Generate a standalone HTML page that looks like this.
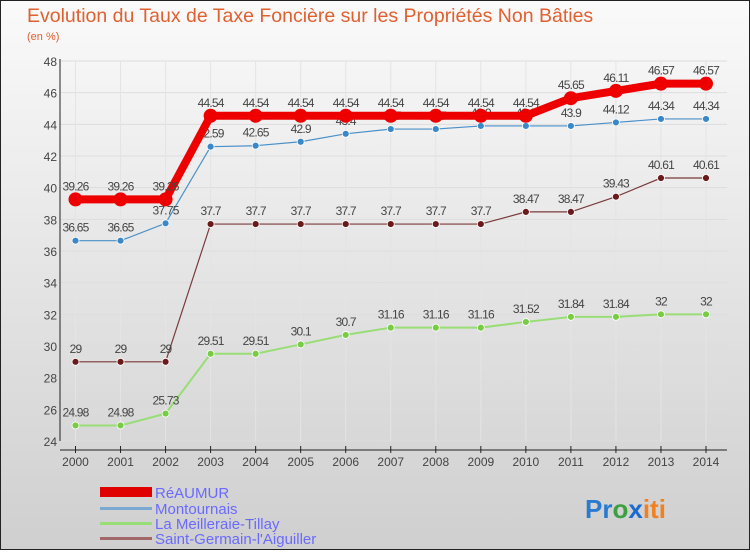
<!DOCTYPE html>
<html><head><meta charset="utf-8"><style>
body{margin:0;width:750px;height:550px;overflow:hidden;font-family:"Liberation Sans",sans-serif}
svg text{font-family:"Liberation Sans",sans-serif}
</style></head><body>
<svg id="c" width="750" height="550">
<defs><linearGradient id="bg" x1="0" y1="0" x2="0" y2="1"><stop offset="0" stop-color="#fafafa"/><stop offset="1" stop-color="#cfcfcf"/></linearGradient></defs>
<rect x="0.5" y="0.5" width="749" height="549" fill="url(#bg)" stroke="#222"/>
<text x="27" y="22" font-size="19.5" fill="#e06030">Evolution du Taux de Taxe Foncière sur les Propriétés Non Bâties</text>
<text x="27" y="40" font-size="11" fill="#e06030">(en %)</text>
<g id="grid"></g><g id="series"></g>
<g>
<rect x="100" y="487" width="52" height="10" fill="#e00000"/>
<text x="155" y="498" font-size="15" fill="#6a6aff">RéAUMUR</text>
<rect x="100" y="507" width="52" height="3" fill="#7aa8d0"/>
<text x="155" y="514" font-size="15" fill="#6a6aff">Montournais</text>
<rect x="100" y="522" width="52" height="3" fill="#99dd77"/>
<text x="155" y="529" font-size="15" fill="#6a6aff">La Meilleraie-Tillay</text>
<rect x="100" y="537" width="52" height="3" fill="#a06868"/>
<text x="155" y="544" font-size="15" fill="#6a6aff">Saint-Germain-l'Aiguiller</text>
</g>
<text x="585" y="518" font-size="26" font-weight="bold"><tspan fill="#2a7bd0">Pr</tspan><tspan fill="#3aa040">o</tspan><tspan fill="#1a6ad0">x</tspan><tspan fill="#f08020">iti</tspan></text>
</svg>
<script>
const years=[2000,2001,2002,2003,2004,2005,2006,2007,2008,2009,2010,2011,2012,2013,2014];
const yTicks=[24,26,28,30,32,34,36,38,40,42,44,46,48];
const reaumur=[39.26,39.26,39.26,44.54,44.54,44.54,44.54,44.54,44.54,44.54,44.54,45.65,46.11,46.57,46.57];
const montournais=[36.65,36.65,37.75,42.59,42.65,42.9,43.4,43.7,43.7,43.9,43.9,43.9,44.12,44.34,44.34];
const meilleraie=[24.98,24.98,25.73,29.51,29.51,30.1,30.7,31.16,31.16,31.16,31.52,31.84,31.84,32,32];
const stgermain=[29,29,29,37.7,37.7,37.7,37.7,37.7,37.7,37.7,38.47,38.47,39.43,40.61,40.61];
const NS="http://www.w3.org/2000/svg";
const x0=60,x1=727,yTop=61,yBot=441;
const xS=i=>75.5+i*(706-75.5)/(years.length-1);
const yS=v=>yBot-(v-24)/(48-24)*(yBot-yTop);
function mk(t,a,p){const e=document.createElementNS(NS,t);for(const k in a)e.setAttribute(k,a[k]);p.appendChild(e);return e;}
const g=document.getElementById('grid');
yTicks.forEach(v=>{
 const l=mk('line',{x1:x0,x2:x1,y1:yS(v),y2:yS(v),stroke:'#ddd'},g);
 
 
 const t=mk('text',{x:x0-3,y:yS(v)+5,'text-anchor':'end','font-size':12,fill:'#444'},g);t.textContent=v;
 
 
});
years.forEach((y,i)=>{
 const l=mk('line',{x1:xS(i),x2:xS(i),y1:yTop,y2:yBot,stroke:'#e4e4e4'},g);
 
 
 mk('line',{x1:xS(i),x2:xS(i),y1:446,y2:453,stroke:'#222'},g);
 const t=mk('text',{x:xS(i),y:466,'text-anchor':'middle','font-size':12,fill:'#444'},g);t.textContent=y;
 
 
});
mk('line',{x1:x0,x2:x0,y1:yTop-2,y2:yBot,stroke:'#222'},g);
mk('line',{x1:x0,x2:x1,y1:450,y2:450,stroke:'#222'},g);
const s=document.getElementById('series');
function draw(name,vals,color,dot,w,r){
 const gg=mk('g',{},s);
 
 
 mk('polyline',{points:vals.map((v,i)=>xS(i)+','+yS(v)).join(' '),fill:'none',stroke:color,'stroke-width':w},gg);
 vals.forEach((v,i)=>{
  const c=mk('circle',{cx:xS(i),cy:yS(v),r:r,fill:dot,stroke:'#fff','stroke-width':r>5?0:0.8},gg);
  
  
  const t=mk('text',{x:xS(i),y:yS(v)-9,'text-anchor':'middle','font-size':12,fill:'#444','letter-spacing':'-0.8'},gg);t.textContent=v;
  
  
 });
}
draw('saint-germain',stgermain,'#7a3a3a','#6a1a1a',1.2,3.5);
draw('meilleraie',meilleraie,'#99dd77','#77cc44',2,3.5);
draw('montournais',montournais,'#4a90c8','#3a88c8',1.2,3.5);
draw('reaumur',reaumur,'#ee0000','#ee0000',8,7);
</script>
</body></html>
